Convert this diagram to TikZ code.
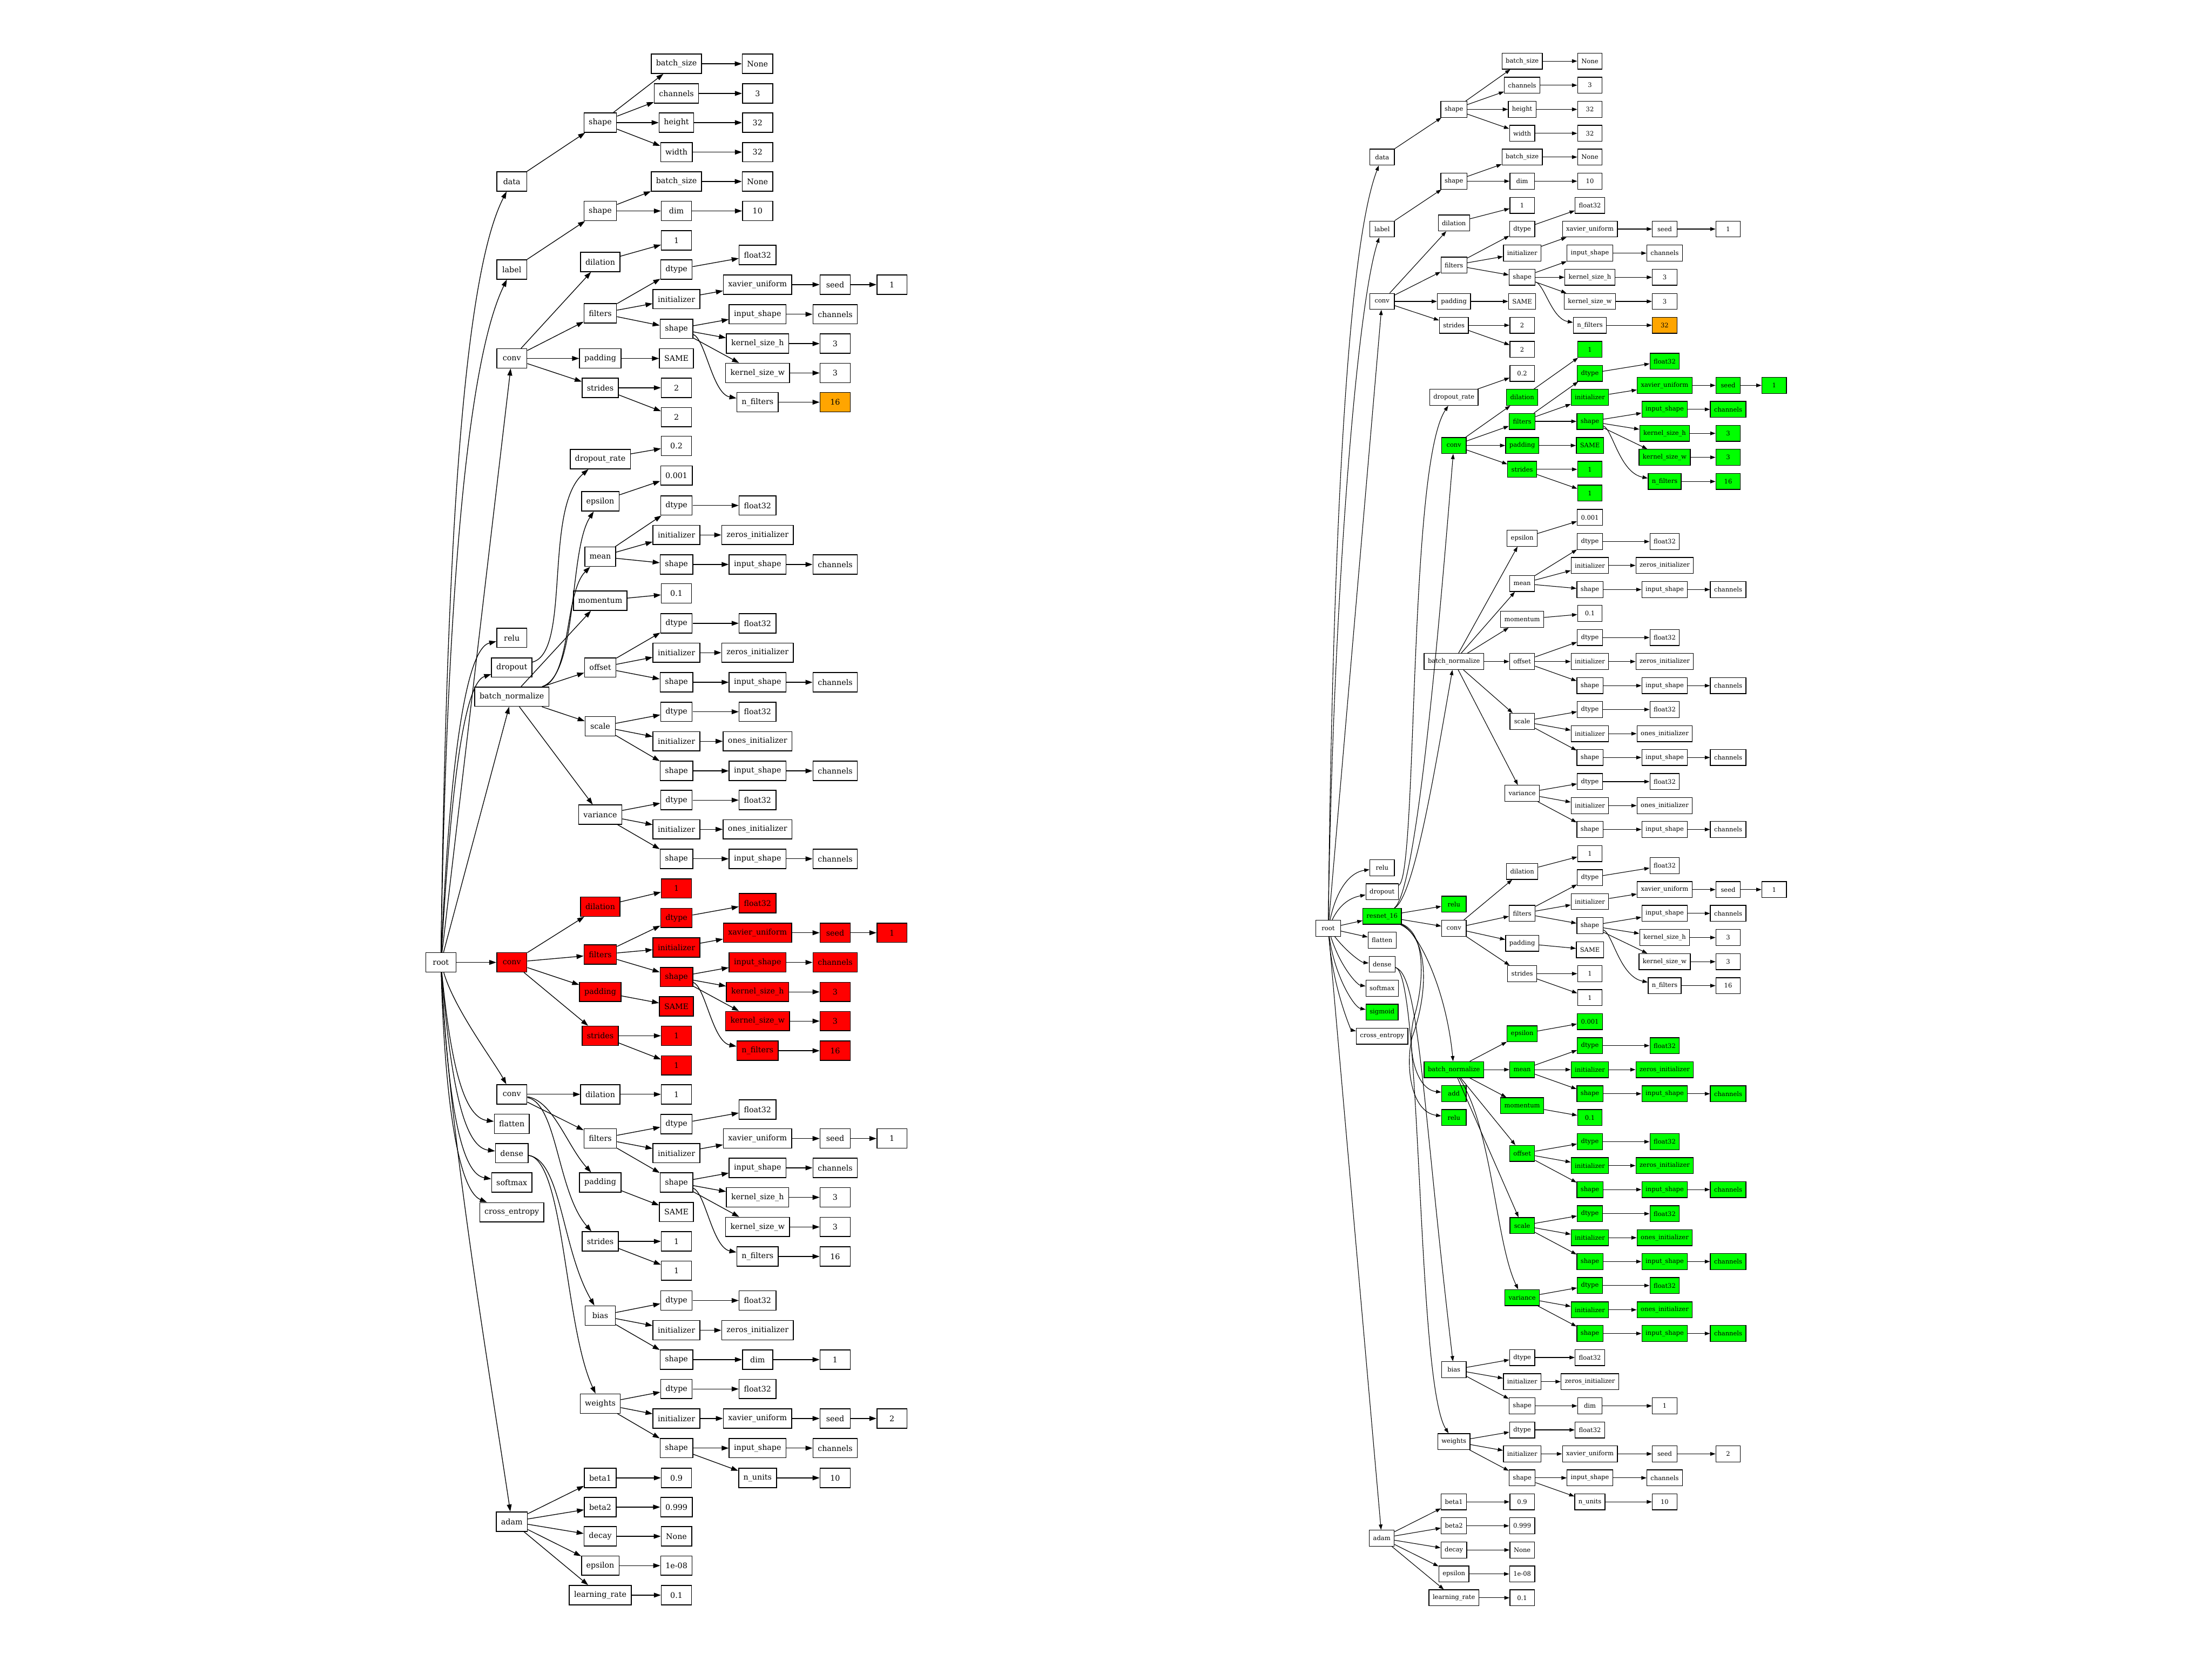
\documentclass[tikz,border=0pt]{standalone}
\usepackage{fontspec}
\setmainfont{DejaVu Serif}
\usetikzlibrary{arrows.meta}
\definecolor{gvred}{HTML}{FF0000}
\definecolor{gvgreen}{HTML}{00FF00}
\definecolor{gvorange}{HTML}{FFA500}
\newcommand\mkn[5]{\node[#1] (#2) at (#3,#4) {#5};}
\newcommand\eL[2]{\draw[el] (#1) -- (#2);}
\newcommand\eR[2]{\draw[er] (#1) -- (#2);}
% batch-norm parameter subtree; columns from \bpA..\bpD
\newcommand\bnprm[9]{%
 \mkn{#1}{#3}{\bpA}{#6}{#4}%
 \mkn{#1}{#3dt}{\bpB}{#7}{dtype}%
 \mkn{#1}{#3dtv}{\bpC}{#7}{float32}%
 \mkn{#1}{#3ini}{\bpB}{#8}{initializer}%
 \mkn{#1}{#3iniv}{\bpC}{#8}{#5\_initializer}%
 \mkn{#1}{#3sh}{\bpB}{#9}{shape}%
 \mkn{#1}{#3in}{\bpC}{#9}{input\_shape}%
 \mkn{#1}{#3inv}{\bpD}{#9}{channels}%
 \draw[#2] (#3) -- (#3dt); \draw[#2] (#3) -- (#3ini); \draw[#2] (#3) -- (#3sh);
 \draw[#2] (#3dt) -- (#3dtv); \draw[#2] (#3ini) -- (#3iniv);
 \draw[#2] (#3sh) -- (#3in); \draw[#2] (#3in) -- (#3inv);}
% conv subtree edges (except conv->padding / conv->strides)
\newcommand\cvedges[6]{%
 \draw[#1] (#2) -- (#2dil); \draw[#1] (#2) -- (#2fil);
 \draw[#1] (#2dil) -- (#2dilv);
 \draw[#1] (#2fil) -- (#2dt); \draw[#1] (#2fil) -- (#2ini); \draw[#1] (#2fil) -- (#2sh);
 \draw[#1] (#2dt) -- (#2dtv); \draw[#1] (#2ini) -- (#2xav); \draw[#1] (#2xav) -- (#2seed); \draw[#1] (#2seed) -- (#2seedv);
 \draw[#1] (#2sh) -- (#2in); \draw[#1] (#2sh) -- (#2kh); \draw[#1] (#2sh) -- (#2kw);
 \draw[#1] (#2sh) .. controls (#3,#4) and (#5,#6) .. (#2nf);
 \draw[#1] (#2in) -- (#2inv); \draw[#1] (#2kh) -- (#2khv); \draw[#1] (#2kw) -- (#2kwv); \draw[#1] (#2nf) -- (#2nfv);
 \draw[#1] (#2pad) -- (#2padv); \draw[#1] (#2str) -- (#2s1); \draw[#1] (#2str) -- (#2s2);}
\begin{document}
\begin{tikzpicture}[x=1pt,y=-1pt,
 nl/.style={draw,line width=0.6pt,font=\fontsize{5.46}{6.5}\selectfont,minimum width=21.4pt,minimum height=13.7pt,inner xsep=3.4pt,inner ysep=0pt},
 nr/.style={draw,line width=0.5pt,font=\fontsize{4.41}{5.3}\selectfont,minimum width=17.4pt,minimum height=11.35pt,inner xsep=2.65pt,inner ysep=0pt},
 rd/.style={fill=gvred}, gn/.style={fill=gvgreen}, og/.style={fill=gvorange},
 el/.style={line width=0.5pt,-{Triangle[length=5pt,width=3.4pt]}},
 er/.style={line width=0.42pt,-{Triangle[length=3.7pt,width=2.6pt]}}]
\fill[white] (0,0) rectangle (1568,1176);
\useasboundingbox (0,0) rectangle (1568,1176);
\def\xLa{362.8}\def\xLb{425.5}\def\xLc{479.5}\def\xLd{537}\def\xLe{592}\def\xLf{632.3}
\def\xRa{979.7}\def\xRb{1030.6}\def\xRc{1079}\def\xRd{1127}\def\xRe{1180}\def\xRf{1225}\def\xRg{1257.6}
% ================= LEFT TREE =================
\mkn{nl}{lroot}{312.5}{682}{root}
% data
\mkn{nl}{ldata}{\xLa}{128.6}{data}
\mkn{nl}{ldsh}{\xLb}{86.9}{shape}
\mkn{nl}{ldbs}{\xLc}{45.2}{batch\_size}
\mkn{nl}{ldbsv}{\xLd}{45.2}{None}
\mkn{nl}{ldch}{\xLc}{66.2}{channels}
\mkn{nl}{ldchv}{\xLd}{66.2}{3}
\mkn{nl}{ldh}{\xLc}{86.9}{height}
\mkn{nl}{ldhv}{\xLd}{86.9}{32}
\mkn{nl}{ldw}{\xLc}{107.8}{width}
\mkn{nl}{ldwv}{\xLd}{107.8}{32}
\eL{ldata}{ldsh}\eL{ldsh}{ldbs}\eL{ldsh}{ldch}\eL{ldsh}{ldh}\eL{ldsh}{ldw}
\eL{ldbs}{ldbsv}\eL{ldch}{ldchv}\eL{ldh}{ldhv}\eL{ldw}{ldwv}
% label
\mkn{nl}{llabel}{\xLa}{191}{label}
\mkn{nl}{llsh}{\xLb}{149.5}{shape}
\mkn{nl}{llbs}{\xLc}{128.6}{batch\_size}
\mkn{nl}{llbsv}{\xLd}{128.6}{None}
\mkn{nl}{lldim}{\xLc}{149.5}{dim}
\mkn{nl}{lldimv}{\xLd}{149.5}{10}
\eL{llabel}{llsh}\eL{llsh}{llbs}\eL{llsh}{lldim}\eL{llbs}{llbsv}\eL{lldim}{lldimv}
% conv (top)
\mkn{nl}{la}{\xLa}{254}{conv}
\mkn{nl}{ladil}{\xLb}{185.6}{dilation}
\mkn{nl}{ladilv}{\xLc}{170.4}{1}
\mkn{nl}{lafil}{\xLb}{222}{filters}
\mkn{nl}{ladt}{\xLc}{191}{dtype}
\mkn{nl}{ladtv}{\xLd}{180.7}{float32}
\mkn{nl}{laini}{\xLc}{212}{initializer}
\mkn{nl}{laxav}{\xLd}{201.7}{xavier\_uniform}
\mkn{nl}{laseed}{\xLe}{201.7}{seed}
\mkn{nl}{laseedv}{\xLf}{201.7}{1}
\mkn{nl}{lash}{\xLc}{233}{shape}
\mkn{nl}{lain}{\xLd}{222.7}{input\_shape}
\mkn{nl}{lainv}{\xLe}{222.7}{channels}
\mkn{nl}{lakh}{\xLd}{243.5}{kernel\_size\_h}
\mkn{nl}{lakhv}{\xLe}{243.5}{3}
\mkn{nl}{lakw}{\xLd}{264.3}{kernel\_size\_w}
\mkn{nl}{lakwv}{\xLe}{264.3}{3}
\mkn{nl}{lanf}{\xLd}{285}{n\_filters}
\mkn{nl,og}{lanfv}{\xLe}{285}{16}
\mkn{nl}{lapad}{\xLb}{254}{padding}
\mkn{nl}{lapadv}{\xLc}{254}{SAME}
\mkn{nl}{lastr}{\xLb}{274.8}{strides}
\mkn{nl}{las1}{\xLc}{274.8}{2}
\mkn{nl}{las2}{\xLc}{295.6}{2}
\cvedges{el}{la}{500}{240}{505}{279}
\eL{la}{lapad}\eL{la}{lastr}
% relu, dropout
\mkn{nl}{lrelu}{\xLa}{452}{relu}
\mkn{nl}{ldrop}{\xLa}{473}{dropout}
\mkn{nl}{ldr}{\xLb}{325.4}{dropout\_rate}
\mkn{nl}{ldrv}{\xLc}{316}{0.2}
\draw[el] (ldrop) .. controls (405,462) and (385,360) .. (ldr);
\eL{ldr}{ldrv}
% batch_normalize
\mkn{nl}{ln}{\xLa}{493.7}{batch\_normalize}
\mkn{nl}{lneps}{\xLb}{355.3}{epsilon}
\mkn{nl}{lnepsv}{\xLc}{337}{0.001}
\mkn{nl}{lnmo}{\xLb}{425.7}{momentum}
\mkn{nl}{lnmov}{\xLc}{420.5}{0.1}
\def\bpA{\xLb}\def\bpB{\xLc}\def\bpC{\xLd}\def\bpD{\xLe}
\bnprm{nl}{el}{lnm}{mean}{zeros}{394.5}{358.2}{379.1}{400}
\bnprm{nl}{el}{lno}{offset}{zeros}{473}{441.7}{462.5}{483.5}
\bnprm{nl}{el}{lns}{scale}{ones}{514.7}{504.4}{525.3}{546.3}
\bnprm{nl}{el}{lnv}{variance}{ones}{577.3}{567}{587.7}{608.6}
\draw[el] (ln) .. controls (410,478) and (403,390) .. (lneps);
\draw[el] (ln) .. controls (405,480) and (400,420) .. (lnm);
\eL{ln}{lnmo}\eL{ln}{lno}\eL{ln}{lns}\eL{ln}{lnv}
\eL{lneps}{lnepsv}\eL{lnmo}{lnmov}
% red conv
\mkn{nl,rd}{lr}{\xLa}{682}{conv}
\mkn{nl,rd}{lrdil}{\xLb}{642.5}{dilation}
\mkn{nl,rd}{lrdilv}{\xLc}{629.6}{1}
\mkn{nl,rd}{lrfil}{\xLb}{676.4}{filters}
\mkn{nl,rd}{lrdt}{\xLc}{650.5}{dtype}
\mkn{nl,rd}{lrdtv}{\xLd}{640.1}{float32}
\mkn{nl,rd}{lrini}{\xLc}{671.5}{initializer}
\mkn{nl,rd}{lrxav}{\xLd}{661}{xavier\_uniform}
\mkn{nl,rd}{lrseed}{\xLe}{661}{seed}
\mkn{nl,rd}{lrseedv}{\xLf}{661}{1}
\mkn{nl,rd}{lrsh}{\xLc}{692.4}{shape}
\mkn{nl,rd}{lrin}{\xLd}{682}{input\_shape}
\mkn{nl,rd}{lrinv}{\xLe}{682}{channels}
\mkn{nl,rd}{lrkh}{\xLd}{702.9}{kernel\_size\_h}
\mkn{nl,rd}{lrkhv}{\xLe}{702.9}{3}
\mkn{nl,rd}{lrkw}{\xLd}{723.6}{kernel\_size\_w}
\mkn{nl,rd}{lrkwv}{\xLe}{723.6}{3}
\mkn{nl,rd}{lrnf}{\xLd}{744.6}{n\_filters}
\mkn{nl,rd}{lrnfv}{\xLe}{744.6}{16}
\mkn{nl,rd}{lrpad}{\xLb}{702.9}{padding}
\mkn{nl,rd}{lrpadv}{\xLc}{713.1}{SAME}
\mkn{nl,rd}{lrstr}{\xLb}{734}{strides}
\mkn{nl,rd}{lrs1}{\xLc}{734}{1}
\mkn{nl,rd}{lrs2}{\xLc}{755}{1}
\cvedges{el}{lr}{500}{699}{505}{738}
\eL{lr}{lrpad}\eL{lr}{lrstr}
% conv (lower)
\mkn{nl}{lc}{\xLa}{775.5}{conv}
\mkn{nl}{lcdil}{\xLb}{775.5}{dilation}
\mkn{nl}{lcdilv}{\xLc}{775.5}{1}
\mkn{nl}{lcfil}{\xLb}{806.8}{filters}
\mkn{nl}{lcdt}{\xLc}{796.6}{dtype}
\mkn{nl}{lcdtv}{\xLd}{786.3}{float32}
\mkn{nl}{lcini}{\xLc}{817.2}{initializer}
\mkn{nl}{lcxav}{\xLd}{806.8}{xavier\_uniform}
\mkn{nl}{lcseed}{\xLe}{806.8}{seed}
\mkn{nl}{lcseedv}{\xLf}{806.8}{1}
\mkn{nl}{lcsh}{\xLc}{838}{shape}
\mkn{nl}{lcin}{\xLd}{827.6}{input\_shape}
\mkn{nl}{lcinv}{\xLe}{827.6}{channels}
\mkn{nl}{lckh}{\xLd}{848.5}{kernel\_size\_h}
\mkn{nl}{lckhv}{\xLe}{848.5}{3}
\mkn{nl}{lckw}{\xLd}{869.5}{kernel\_size\_w}
\mkn{nl}{lckwv}{\xLe}{869.5}{3}
\mkn{nl}{lcnf}{\xLd}{890.4}{n\_filters}
\mkn{nl}{lcnfv}{\xLe}{890.4}{16}
\mkn{nl}{lcpad}{\xLb}{838}{padding}
\mkn{nl}{lcpadv}{\xLc}{858.9}{SAME}
\mkn{nl}{lcstr}{\xLb}{879.7}{strides}
\mkn{nl}{lcs1}{\xLc}{879.7}{1}
\mkn{nl}{lcs2}{\xLc}{900.5}{1}
\cvedges{el}{lc}{500}{845}{505}{884}
\draw[el] (lc) .. controls (392,780) and (402,812) .. (lcpad);
\draw[el] (lc) .. controls (395,782) and (395,845) .. (lcstr);
% flatten, dense, softmax, cross_entropy
\mkn{nl}{lflat}{\xLa}{796.4}{flatten}
\mkn{nl}{lq}{\xLa}{817.2}{dense}
\mkn{nl}{lsoft}{\xLa}{838}{softmax}
\mkn{nl}{lce}{\xLa}{859.1}{cross\_entropy}
\mkn{nl}{lqb}{\xLb}{932.3}{bias}
\mkn{nl}{lqbdt}{\xLc}{921.6}{dtype}
\mkn{nl}{lqbdtv}{\xLd}{921.6}{float32}
\mkn{nl}{lqbini}{\xLc}{942.7}{initializer}
\mkn{nl}{lqbiniv}{\xLd}{942.7}{zeros\_initializer}
\mkn{nl}{lqbsh}{\xLc}{963.5}{shape}
\mkn{nl}{lqbdim}{\xLd}{963.5}{dim}
\mkn{nl}{lqbdimv}{\xLe}{963.5}{1}
\mkn{nl}{lqw}{\xLb}{994.7}{weights}
\mkn{nl}{lqwdt}{\xLc}{984.3}{dtype}
\mkn{nl}{lqwdtv}{\xLd}{984.3}{float32}
\mkn{nl}{lqwini}{\xLc}{1005.2}{initializer}
\mkn{nl}{lqwxav}{\xLd}{1005.2}{xavier\_uniform}
\mkn{nl}{lqwseed}{\xLe}{1005.2}{seed}
\mkn{nl}{lqwseedv}{\xLf}{1005.2}{2}
\mkn{nl}{lqwsh}{\xLc}{1026.2}{shape}
\mkn{nl}{lqwin}{\xLd}{1026.2}{input\_shape}
\mkn{nl}{lqwinv}{\xLe}{1026.2}{channels}
\mkn{nl}{lqwnu}{\xLd}{1047.3}{n\_units}
\mkn{nl}{lqwnuv}{\xLe}{1047.3}{10}
\draw[el] (lq) .. controls (398,822) and (398,885) .. (lqb);
\draw[el] (lq) .. controls (400,822) and (400,940) .. (lqw);
\eL{lqb}{lqbdt}\eL{lqb}{lqbini}\eL{lqb}{lqbsh}\eL{lqbdt}{lqbdtv}\eL{lqbini}{lqbiniv}\eL{lqbsh}{lqbdim}\eL{lqbdim}{lqbdimv}
\eL{lqw}{lqwdt}\eL{lqw}{lqwini}\eL{lqw}{lqwsh}\eL{lqwdt}{lqwdtv}\eL{lqwini}{lqwxav}\eL{lqwxav}{lqwseed}\eL{lqwseed}{lqwseedv}
\eL{lqwsh}{lqwin}\eL{lqwin}{lqwinv}\eL{lqwsh}{lqwnu}\eL{lqwnu}{lqwnuv}
% adam
\mkn{nl}{lm}{\xLa}{1078.3}{adam}
\mkn{nl}{lmb1}{\xLb}{1047.3}{beta1}
\mkn{nl}{lmb1v}{\xLc}{1047.3}{0.9}
\mkn{nl}{lmb2}{\xLb}{1068}{beta2}
\mkn{nl}{lmb2v}{\xLc}{1068}{0.999}
\mkn{nl}{lmd}{\xLb}{1088.7}{decay}
\mkn{nl}{lmdv}{\xLc}{1088.7}{None}
\mkn{nl}{lme}{\xLb}{1109.5}{epsilon}
\mkn{nl}{lmev}{\xLc}{1109.5}{1e-08}
\mkn{nl}{lml}{\xLb}{1130.4}{learning\_rate}
\mkn{nl}{lmlv}{\xLc}{1130.4}{0.1}
\eL{lm}{lmb1}\eL{lm}{lmb2}\eL{lm}{lmd}\eL{lm}{lme}\eL{lm}{lml}
\eL{lmb1}{lmb1v}\eL{lmb2}{lmb2v}\eL{lmd}{lmdv}\eL{lme}{lmev}\eL{lml}{lmlv}
% root edges
\draw[el] (lroot) .. controls (316,420) and (326,200) .. (ldata);
\draw[el] (lroot) .. controls (316,460) and (328,262) .. (llabel);
\eL{lroot}{la}
\draw[el] (lroot) .. controls (318,560) and (328,460) .. (lrelu);
\draw[el] (lroot) .. controls (318,590) and (326,485) .. (ldrop);
\eL{lroot}{ln}
\eL{lroot}{lr}
\draw[el] (lroot) .. controls (322,715) and (350,752) .. (lc);
\draw[el] (lroot) .. controls (320,760) and (330,792) .. (lflat);
\draw[el] (lroot) .. controls (320,775) and (330,813) .. (lq);
\draw[el] (lroot) .. controls (318,790) and (328,832) .. (lsoft);
\draw[el] (lroot) .. controls (316,800) and (328,845) .. (lce);
\draw[el] (lroot) .. controls (318,800) and (345,960) .. (lm);
% ================= RIGHT TREE =================
\mkn{nr}{rroot}{941.5}{657.8}{root}
% data
\mkn{nr}{rd}{\xRa}{111.3}{data}
\mkn{nr}{rdsh}{\xRb}{77.5}{shape}
\mkn{nr}{rdbs}{\xRc}{43.3}{batch\_size}
\mkn{nr}{rdbsv}{\xRd}{43.3}{None}
\mkn{nr}{rdch}{\xRc}{60.4}{channels}
\mkn{nr}{rdchv}{\xRd}{60.4}{3}
\mkn{nr}{rdh}{\xRc}{77.5}{height}
\mkn{nr}{rdhv}{\xRd}{77.5}{32}
\mkn{nr}{rdw}{\xRc}{94.5}{width}
\mkn{nr}{rdwv}{\xRd}{94.5}{32}
\eR{rd}{rdsh}\eR{rdsh}{rdbs}\eR{rdsh}{rdch}\eR{rdsh}{rdh}\eR{rdsh}{rdw}
\eR{rdbs}{rdbsv}\eR{rdch}{rdchv}\eR{rdh}{rdhv}\eR{rdw}{rdwv}
% label
\mkn{nr}{rl}{\xRa}{162.3}{label}
\mkn{nr}{rlsh}{\xRb}{128.4}{shape}
\mkn{nr}{rlbs}{\xRc}{111.3}{batch\_size}
\mkn{nr}{rlbsv}{\xRd}{111.3}{None}
\mkn{nr}{rldim}{\xRc}{128.4}{dim}
\mkn{nr}{rldimv}{\xRd}{128.4}{10}
\eR{rl}{rlsh}\eR{rlsh}{rlbs}\eR{rlsh}{rldim}\eR{rlbs}{rlbsv}\eR{rldim}{rldimv}
% conv (top)
\mkn{nr}{ra}{\xRa}{213.6}{conv}
\mkn{nr}{radil}{\xRb}{158}{dilation}
\mkn{nr}{radilv}{\xRc}{145.5}{1}
\mkn{nr}{rafil}{\xRb}{187.9}{filters}
\mkn{nr}{radt}{\xRc}{162.3}{dtype}
\mkn{nr}{radtv}{\xRd}{145.5}{float32}
\mkn{nr}{raini}{\xRc}{179.4}{initializer}
\mkn{nr}{raxav}{\xRd}{162.3}{xavier\_uniform}
\mkn{nr}{raseed}{\xRe}{162.3}{seed}
\mkn{nr}{raseedv}{\xRf}{162.3}{1}
\mkn{nr}{rash}{\xRc}{196.5}{shape}
\mkn{nr}{rain}{\xRd}{179.4}{input\_shape}
\mkn{nr}{rainv}{\xRe}{179.4}{channels}
\mkn{nr}{rakh}{\xRd}{196.5}{kernel\_size\_h}
\mkn{nr}{rakhv}{\xRe}{196.5}{3}
\mkn{nr}{rakw}{\xRd}{213.6}{kernel\_size\_w}
\mkn{nr}{rakwv}{\xRe}{213.6}{3}
\mkn{nr}{ranf}{\xRd}{230.5}{n\_filters}
\mkn{nr,og}{ranfv}{\xRe}{230.5}{32}
\mkn{nr}{rapad}{\xRb}{213.6}{padding}
\mkn{nr}{rapadv}{\xRc}{213.6}{SAME}
\mkn{nr}{rastr}{\xRb}{230.5}{strides}
\mkn{nr}{ras1}{\xRc}{230.5}{2}
\mkn{nr}{ras2}{\xRc}{247.6}{2}
\cvedges{er}{ra}{1095}{202}{1100}{226}
\eR{ra}{rapad}\eR{ra}{rastr}
% green conv
\mkn{nr,gn}{rg}{\xRb}{315.7}{conv}
\mkn{nr,gn}{rgdil}{\xRc}{281.6}{dilation}
\mkn{nr,gn}{rgdilv}{\xRd}{247.6}{1}
\mkn{nr,gn}{rgfil}{\xRc}{298.6}{filters}
\mkn{nr,gn}{rgdt}{\xRd}{264.6}{dtype}
\mkn{nr,gn}{rgdtv}{\xRe}{256}{float32}
\mkn{nr,gn}{rgini}{\xRd}{281.6}{initializer}
\mkn{nr,gn}{rgxav}{\xRe}{273.1}{xavier\_uniform}
\mkn{nr,gn}{rgseed}{\xRf}{273.1}{seed}
\mkn{nr,gn}{rgseedv}{\xRg}{273.1}{1}
\mkn{nr,gn}{rgsh}{\xRd}{298.6}{shape}
\mkn{nr,gn}{rgin}{\xRe}{290.1}{input\_shape}
\mkn{nr,gn}{rginv}{\xRf}{290.1}{channels}
\mkn{nr,gn}{rgkh}{\xRe}{307.1}{kernel\_size\_h}
\mkn{nr,gn}{rgkhv}{\xRf}{307.1}{3}
\mkn{nr,gn}{rgkw}{\xRe}{324.1}{kernel\_size\_w}
\mkn{nr,gn}{rgkwv}{\xRf}{324.1}{3}
\mkn{nr,gn}{rgnf}{\xRe}{341.2}{n\_filters}
\mkn{nr,gn}{rgnfv}{\xRf}{341.2}{16}
\mkn{nr,gn}{rgpad}{\xRc}{315.7}{padding}
\mkn{nr,gn}{rgpadv}{\xRd}{315.7}{SAME}
\mkn{nr,gn}{rgstr}{\xRc}{332.6}{strides}
\mkn{nr,gn}{rgs1}{\xRd}{332.6}{1}
\mkn{nr,gn}{rgs2}{\xRd}{349.4}{1}
\cvedges{er}{rg}{1143}{304}{1148}{335}
\eR{rg}{rgpad}\eR{rg}{rgstr}
% dropout_rate
\mkn{nr}{rdr}{\xRb}{281.6}{dropout\_rate}
\mkn{nr}{rdrv}{\xRc}{264.6}{0.2}
\eR{rdr}{rdrv}
% white batch_normalize
\mkn{nr}{rn}{\xRb}{468.8}{batch\_normalize}
\mkn{nr}{rneps}{\xRc}{381.4}{epsilon}
\mkn{nr}{rnepsv}{\xRd}{366.7}{0.001}
\mkn{nr}{rnmo}{\xRc}{438.9}{momentum}
\mkn{nr}{rnmov}{\xRd}{434.7}{0.1}
\def\bpA{\xRc}\def\bpB{\xRd}\def\bpC{\xRe}\def\bpD{\xRf}
\bnprm{nr}{er}{rnm}{mean}{zeros}{413.5}{383.8}{400.7}{417.8}
\bnprm{nr}{er}{rno}{offset}{zeros}{468.8}{451.8}{468.8}{485.9}
\bnprm{nr}{er}{rns}{scale}{ones}{511.2}{502.8}{519.9}{536.8}
\bnprm{nr}{er}{rnv}{variance}{ones}{562.2}{553.9}{570.9}{587.8}
\eR{rn}{rneps}\eR{rn}{rnm}\eR{rn}{rnmo}\eR{rn}{rno}\eR{rn}{rns}\eR{rn}{rnv}
\eR{rneps}{rnepsv}\eR{rnmo}{rnmov}
% level 1
\mkn{nr}{rrelu}{\xRa}{615}{relu}
\mkn{nr}{rdrop}{\xRa}{632}{dropout}
\mkn{nr,gn}{rres}{\xRa}{649.3}{resnet\_16}
\mkn{nr}{rflat}{\xRa}{666.3}{flatten}
\mkn{nr}{rq}{\xRa}{683.3}{dense}
\mkn{nr}{rsoft}{\xRa}{700.3}{softmax}
\mkn{nr,gn}{rsig}{\xRa}{717.3}{sigmoid}
\mkn{nr}{rce}{\xRa}{734.3}{cross\_entropy}
% resnet children
\mkn{nr,gn}{rrelu1}{\xRb}{640.8}{relu}
\mkn{nr,gn}{radd}{\xRb}{775}{add}
\mkn{nr,gn}{rrelu2}{\xRb}{792}{relu}
% white conv (resnet)
\mkn{nr}{rc}{\xRb}{657.8}{conv}
\mkn{nr}{rcdil}{\xRc}{617.5}{dilation}
\mkn{nr}{rcdilv}{\xRd}{604.9}{1}
\mkn{nr}{rcfil}{\xRc}{647.3}{filters}
\mkn{nr}{rcdt}{\xRd}{622}{dtype}
\mkn{nr}{rcdtv}{\xRe}{613.4}{float32}
\mkn{nr}{rcini}{\xRd}{638.9}{initializer}
\mkn{nr}{rcxav}{\xRe}{630.4}{xavier\_uniform}
\mkn{nr}{rcseed}{\xRf}{630.4}{seed}
\mkn{nr}{rcseedv}{\xRg}{630.4}{1}
\mkn{nr}{rcsh}{\xRd}{656}{shape}
\mkn{nr}{rcin}{\xRe}{647.3}{input\_shape}
\mkn{nr}{rcinv}{\xRf}{647.3}{channels}
\mkn{nr}{rckh}{\xRe}{664.4}{kernel\_size\_h}
\mkn{nr}{rckhv}{\xRf}{664.4}{3}
\mkn{nr}{rckw}{\xRe}{681.5}{kernel\_size\_w}
\mkn{nr}{rckwv}{\xRf}{681.5}{3}
\mkn{nr}{rcnf}{\xRe}{698.5}{n\_filters}
\mkn{nr}{rcnfv}{\xRf}{698.5}{16}
\mkn{nr}{rcpad}{\xRc}{668.5}{padding}
\mkn{nr}{rcpadv}{\xRd}{673}{SAME}
\mkn{nr}{rcstr}{\xRc}{690}{strides}
\mkn{nr}{rcs1}{\xRd}{690}{1}
\mkn{nr}{rcs2}{\xRd}{707}{1}
\cvedges{er}{rc}{1143}{661}{1148}{692}
\eR{rc}{rcpad}\eR{rc}{rcstr}
% green batch_normalize
\mkn{nr,gn}{rb}{\xRb}{758}{batch\_normalize}
\mkn{nr,gn}{rbeps}{\xRc}{732.6}{epsilon}
\mkn{nr,gn}{rbepsv}{\xRd}{724}{0.001}
\mkn{nr,gn}{rbmo}{\xRc}{783.5}{momentum}
\mkn{nr,gn}{rbmov}{\xRd}{792}{0.1}
\bnprm{nr,gn}{er}{rbm}{mean}{zeros}{758}{741}{758}{775.1}
\bnprm{nr,gn}{er}{rbo}{offset}{zeros}{817.4}{809.1}{826}{843}
\bnprm{nr,gn}{er}{rbs}{scale}{ones}{868.5}{860.1}{877.1}{894}
\bnprm{nr,gn}{er}{rbv}{variance}{ones}{919.6}{911}{928.2}{945}
\eR{rb}{rbeps}\eR{rb}{rbm}\eR{rb}{rbmo}\eR{rb}{rbo}\eR{rb}{rbs}
\draw[er] (rb) .. controls (1058,800) and (1060,880) .. (rbv);
\eR{rbeps}{rbepsv}\eR{rbmo}{rbmov}
% dense
\mkn{nr}{rqb}{\xRb}{970.6}{bias}
\mkn{nr}{rqbdt}{\xRc}{962}{dtype}
\mkn{nr}{rqbdtv}{\xRd}{962}{float32}
\mkn{nr}{rqbini}{\xRc}{979.1}{initializer}
\mkn{nr}{rqbiniv}{\xRd}{979.1}{zeros\_initializer}
\mkn{nr}{rqbsh}{\xRc}{996.3}{shape}
\mkn{nr}{rqbdim}{\xRd}{996.3}{dim}
\mkn{nr}{rqbdimv}{\xRe}{996.3}{1}
\mkn{nr}{rqw}{\xRb}{1021.6}{weights}
\mkn{nr}{rqwdt}{\xRc}{1013.3}{dtype}
\mkn{nr}{rqwdtv}{\xRd}{1013.3}{float32}
\mkn{nr}{rqwini}{\xRc}{1030.3}{initializer}
\mkn{nr}{rqwxav}{\xRd}{1030.3}{xavier\_uniform}
\mkn{nr}{rqwseed}{\xRe}{1030.3}{seed}
\mkn{nr}{rqwseedv}{\xRf}{1030.3}{2}
\mkn{nr}{rqwsh}{\xRc}{1047.3}{shape}
\mkn{nr}{rqwin}{\xRd}{1047.3}{input\_shape}
\mkn{nr}{rqwinv}{\xRe}{1047.3}{channels}
\mkn{nr}{rqwnu}{\xRd}{1064.3}{n\_units}
\mkn{nr}{rqwnuv}{\xRe}{1064.3}{10}
\draw[er] (rq) .. controls (1006,690) and (1008,780) .. (rqb);
\draw[er] (rq) .. controls (1008,690) and (1004,980) .. (rqw);
\eR{rqb}{rqbdt}\eR{rqb}{rqbini}\eR{rqb}{rqbsh}\eR{rqbdt}{rqbdtv}\eR{rqbini}{rqbiniv}\eR{rqbsh}{rqbdim}\eR{rqbdim}{rqbdimv}
\eR{rqw}{rqwdt}\eR{rqw}{rqwini}\eR{rqw}{rqwsh}\eR{rqwdt}{rqwdtv}\eR{rqwini}{rqwxav}\eR{rqwxav}{rqwseed}\eR{rqwseed}{rqwseedv}
\eR{rqwsh}{rqwin}\eR{rqwin}{rqwinv}\eR{rqwsh}{rqwnu}\eR{rqwnu}{rqwnuv}
% adam
\mkn{nr}{rm}{979.5}{1090}{adam}
\mkn{nr}{rmb1}{\xRb}{1064.3}{beta1}
\mkn{nr}{rmb1v}{\xRc}{1064.3}{0.9}
\mkn{nr}{rmb2}{\xRb}{1081.3}{beta2}
\mkn{nr}{rmb2v}{\xRc}{1081.3}{0.999}
\mkn{nr}{rmd}{\xRb}{1098.4}{decay}
\mkn{nr}{rmdv}{\xRc}{1098.4}{None}
\mkn{nr}{rme}{\xRb}{1115.4}{epsilon}
\mkn{nr}{rmev}{\xRc}{1115.4}{1e-08}
\mkn{nr}{rml}{\xRb}{1132.3}{learning\_rate}
\mkn{nr}{rmlv}{\xRc}{1132.3}{0.1}
\eR{rm}{rmb1}\eR{rm}{rmb2}\eR{rm}{rmd}\eR{rm}{rme}\eR{rm}{rml}
\eR{rmb1}{rmb1v}\eR{rmb2}{rmb2v}\eR{rmd}{rmdv}\eR{rme}{rmev}\eR{rml}{rmlv}
% right root edges
\draw[er] (rroot) .. controls (945,350) and (957,170) .. (rd);
\draw[er] (rroot) .. controls (945,420) and (962,215) .. (rl);
\eR{rroot}{ra}
\draw[er] (rroot) .. controls (948,628) and (958,618) .. (rrelu);
\draw[er] (rroot) .. controls (950,640) and (958,636) .. (rdrop);
\eR{rroot}{rres}
\eR{rroot}{rflat}
\draw[er] (rroot) .. controls (955,675) and (965,682) .. (rq);
\draw[er] (rroot) .. controls (950,685) and (962,698) .. (rsoft);
\draw[er] (rroot) .. controls (946,692) and (960,714) .. (rsig);
\draw[er] (rroot) .. controls (945,702) and (958,730) .. (rce);
\eR{rroot}{rm}
% dropout / resnet edges
\draw[er] (rdrop) .. controls (1005,622) and (998,330) .. (rdr);
\draw[er] (rres) .. controls (1005,632) and (1022,420) .. (rg);
\draw[er] (rres) .. controls (1003,634) and (1018,540) .. (rn);
\eR{rres}{rrelu1}\eR{rres}{rc}
\draw[er] (rres) .. controls (1005,660) and (1025,700) .. (rb);
\draw[er] (rres) .. controls (1012,662) and (1009,700) .. (1002,722) .. controls (997,745) and (1004,772) .. (radd);
\draw[er] (rres) .. controls (1014,665) and (1012,705) .. (1001,735) .. controls (996,755) and (1000,788) .. (rrelu2);
\end{tikzpicture}
\end{document}
